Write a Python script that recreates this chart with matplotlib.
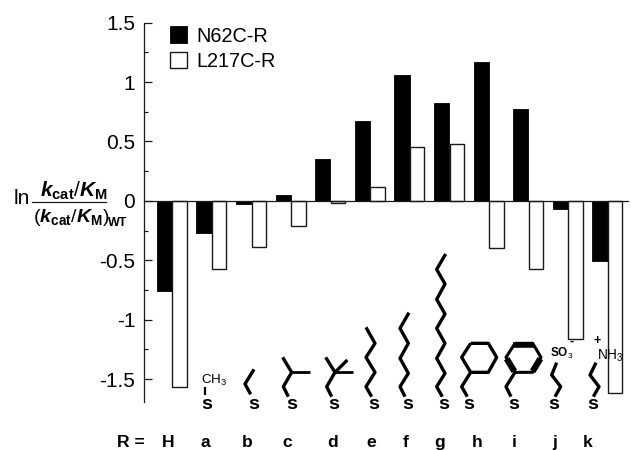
import matplotlib
matplotlib.use("Agg")
import matplotlib.pyplot as plt
from matplotlib.patches import Patch
import numpy as np

plt.rcParams.update({
    'font.family': ['Liberation Sans', 'DejaVu Sans'],
    'mathtext.fontset': 'custom',
    'mathtext.rm': 'Liberation Sans',
    'mathtext.bf': 'Liberation Sans:bold',
    'mathtext.it': 'Liberation Sans:italic',
    'mathtext.bfit': 'Liberation Sans:italic:bold',
})

categories = ['H', 'a', 'b', 'c', 'd', 'e', 'f', 'g', 'h', 'i', 'j', 'k']
n62c = [-0.76, -0.27, -0.03, 0.05, 0.35, 0.67, 1.06, 0.82, 1.17, 0.77, -0.07, -0.507]
l217c = [-1.568, -0.574, -0.386, -0.21, -0.02, 0.12, 0.45, 0.48, -0.40, -0.575, -1.162, -1.62]
major_ticks = [-1.5, -1, -0.5, 0, 0.5, 1, 1.5]
minor_ticks = [-1.25, -0.75, -0.25, 0.25, 0.75, 1.25]
series_names = ['N62C-R', 'L217C-R']

W, H = 631, 450
INK = '#1a1a1a'
fig = plt.figure(figsize=(W / 100, H / 100), dpi=100)
ax = fig.add_axes([143.5 / W, 1 - 402 / H, (628 - 143.5) / W, (402 - 22.7) / H])
x = np.arange(len(categories))
width = 0.385
ax.bar(x - width / 2, n62c, width, color='black', edgecolor='black', linewidth=0.6, zorder=2)
ax.bar(x + width / 2, l217c, width * 0.94, color='white', edgecolor=INK, linewidth=1.0, zorder=2)
ax.set_xlim(-0.72, 11.515)
ax.set_ylim(-1.693, 1.5)

for s in ('top', 'right'):
    ax.spines[s].set_visible(False)
ax.spines['left'].set_linewidth(0.9)
ax.spines['left'].set_color(INK)
ax.spines['bottom'].set_position(('data', 0))
ax.spines['bottom'].set_linewidth(0.9)
ax.spines['bottom'].set_color(INK)
ax.spines['bottom'].set_zorder(3)
ax.set_xticks([])
ax.set_yticks(major_ticks)
ax.set_yticklabels(['%g' % v for v in major_ticks])
ax.set_yticks(minor_ticks, minor=True)
ax.tick_params(axis='y', which='major', direction='in', length=5.4, width=0.9, color=INK, labelsize=15, pad=6)
ax.tick_params(axis='y', which='minor', direction='in', length=2.8, width=0.9, color=INK)

handles = [Patch(facecolor='black', edgecolor='black', linewidth=0.6),
           Patch(facecolor='white', edgecolor=INK, linewidth=1.0)]
leg = ax.legend(handles, series_names, frameon=False, fontsize=14.3,
                loc='upper left', bbox_to_anchor=(168 / W, 1 - 24.5 / H),
                bbox_transform=fig.transFigure, borderaxespad=0, borderpad=0.1,
                handlelength=0.85, handleheight=0.9, handletextpad=0.5, labelspacing=0.3)

# Overlay in pixel coordinates for the annotation drawings and text
ov = fig.add_axes([0, 0, 1, 1], facecolor='none')
ov.set_xlim(0, W)
ov.set_ylim(H, 0)
ov.axis('off')


def zpts(ox, pts):
    return [(ox + px / 3, 240 + py / 3) for px, py in pts]


def chain(pts, lw=2.4):
    xs, ys = zip(*pts)
    ov.plot(xs, ys, color='black', lw=lw, solid_joinstyle='round', solid_capstyle='butt')


chains = [
    (130, [(224, 440), (224, 466)], 1.6),
    (130, [(372, 388), (345, 432), (362, 463)], 2.4),
    (130, [(458, 352), (485, 397), (460, 440), (475, 470)], 2.4),
    (130, [(485, 397), (540, 397)], 2.0),
    (130, [(587, 352), (615, 397), (590, 440), (605, 470)], 2.4),
    (130, [(615, 397), (670, 397)], 2.0),
    (130, [(615, 397), (652, 360)], 2.4),
    (130, [(708, 262), (735, 310), (708, 352), (735, 397), (708, 440), (725, 470)], 2.4),
    (380, [(87, 218), (60, 265), (85, 310), (60, 355), (85, 400), (60, 440), (75, 470)], 2.4),
    (380, [(197, 42), (170, 88), (195, 132), (170, 178), (195, 222), (170, 265), (195, 310),
           (170, 355), (195, 400), (170, 440), (187, 470)], 2.4),
    (380, [(272, 310), (325, 310), (350, 352), (325, 397), (272, 397), (245, 352), (272, 310)], 2.4),
    (380, [(272, 397), (245, 440), (262, 470)], 2.4),
    (380, [(405, 310), (458, 310), (483, 352), (458, 397), (405, 397), (378, 352), (405, 310)], 2.2),
    (380, [(405, 397), (378, 440), (393, 470)], 2.4),
    (380, [(400, 314), (462, 314)], 4.0),
    (380, [(380, 356), (403, 394)], 4.5),
    (380, [(481, 356), (458, 394)], 4.5),
    (380, [(530, 368), (515, 405), (542, 440), (525, 470)], 2.4),
    (380, [(648, 368), (630, 405), (657, 440), (640, 470)], 2.4),
]
for ox, pts, lw in chains:
    chain(zpts(ox, pts), lw)

# Sulfur labels
for ox, zx in [(130, 230), (130, 372), (130, 485), (130, 610), (130, 730),
               (380, 82), (380, 192), (380, 267), (380, 400), (380, 522), (380, 638)]:
    ov.text(ox + zx / 3, 404.5, 's', fontsize=14, fontweight='bold', ha='center', va='center')

# Group labels
label_px = [167.7, 205, 247, 287, 333, 371.7, 406, 440, 476.7, 514.3, 555, 587.5]
for name, lx in zip(categories, label_px):
    ov.text(lx, 442.5, name, fontsize=12.6, fontweight='bold', ha='center', va='center')
ov.text(131, 442.5, 'R =', fontsize=12.6, fontweight='bold', ha='center', va='center')

# Substituent labels
ov.text(201, 380, r'CH$_{3}$', fontsize=9.6, ha='left', va='center')
ov.text(550.5, 353.5, r'SO$_{3}$', fontsize=8.5, fontweight='bold', ha='left', va='center')
ov.text(572, 342, '-', fontsize=9, fontweight='bold', ha='center', va='center')
ov.text(597, 341, '+', fontsize=9, fontweight='bold', ha='center', va='center')
ov.text(597, 356, r'NH$_{3}$', fontsize=9.8, ha='left', va='center')

# Y-axis expression
ov.text(14, 199, 'ln', fontsize=15, ha='left', va='center')
ov.text(74, 190.5, r'$\mathbfit{k}_{\mathbf{cat}}/\mathbfit{K}_{\mathbf{M}}$', fontsize=15, ha='center', va='center')
ov.plot([32, 106], [202, 202], color=INK, lw=0.9)
ov.text(33, 217, r'($\mathbfit{k}_{\mathbf{cat}}/\mathbfit{K}_{\mathbf{M}}$)', fontsize=14, ha='left', va='center')
ov.text(108, 223, 'WT', fontsize=9, fontweight='bold', ha='left', va='center')

fig.savefig('out.png', dpi=100)
